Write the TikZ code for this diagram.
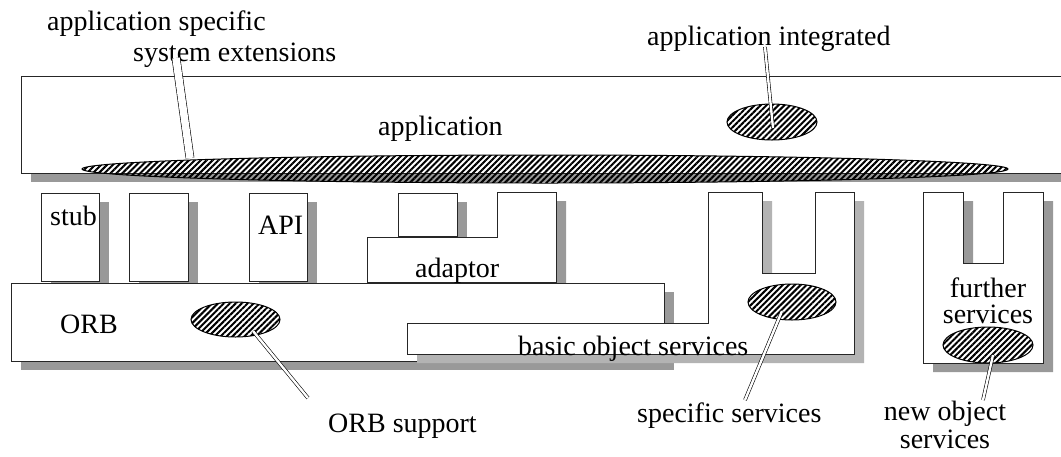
\documentclass[tikz,border=0pt]{standalone}
\usepackage{fontspec}
\setmainfont{Liberation Serif}
\usetikzlibrary{shapes.geometric,patterns.meta}

\definecolor{shadowdark}{HTML}{999999}
\definecolor{shadowlight}{HTML}{B3B3B3}

\tikzset{
  box/.style={draw=black!85, line width=1pt, fill=white},
  shd/.style={fill=#1, shift={(10,9)}},
  shd/.default=shadowdark,
  hatched/.style={ellipse, draw=black, line width=1pt, inner sep=0pt,
    pattern={Lines[angle=45,distance=4.2pt,line width=2pt]}},
  leader/.style={draw=black, line width=0.6pt, double=white, double distance=2.4pt},
  lbl/.style={font=\fontsize{28}{28}\selectfont, inner sep=0pt},
}

\begin{document}
\begin{tikzpicture}[x=1pt, y=-1pt]
  \clip (0,0) rectangle (1061,456);

  % application layer
  \fill[shd] (21,76) rectangle (1075,173);
  \draw[box] (21,76) rectangle (1075,173);
  \node[hatched, minimum width=926pt, minimum height=28pt] (appell) at (545,169) {};
  \node[hatched, minimum width=90pt, minimum height=36pt] (intell) at (772,122) {};

  % stub, skeleton, API
  \fill[shd] (41,193) rectangle (99,281);
  \draw[box] (41,193) rectangle (99,281);
  \fill[shd] (129,193) rectangle (188,281);
  \draw[box] (129,193) rectangle (188,281);
  \fill[shd] (249,193) rectangle (307,281);
  \draw[box] (249,193) rectangle (307,281);

  % adaptor
  \fill[shd] (398,193) rectangle (457,236);
  \draw[box] (398,193) rectangle (457,236);
  \fill[shd] (367,282) -- (367,237) -- (497,237) -- (497,192) -- (556,192) -- (556,282) -- cycle;
  \draw[box] (367,282) -- (367,237) -- (497,237) -- (497,192) -- (556,192) -- (556,282) -- cycle;

  % ORB
  \fill[shd] (11,283) rectangle (664,361);
  \draw[box] (11,283) rectangle (664,361);

  % basic object services
  \fill[shd=shadowlight] (407,323) -- (708,323) -- (708,192) -- (762,192) -- (762,273) -- (815,273)
    -- (815,192) -- (854,192) -- (854,354) -- (407,354) -- cycle;
  \draw[box] (407,323) -- (708,323) -- (708,192) -- (762,192) -- (762,273) -- (815,273)
    -- (815,192) -- (854,192) -- (854,354) -- (407,354) -- cycle;

  % further services
  \fill[shd] (923,192) -- (963,192) -- (963,263) -- (1003,263) -- (1003,192) -- (1043,192)
    -- (1043,363) -- (923,363) -- cycle;
  \draw[box] (923,192) -- (963,192) -- (963,263) -- (1003,263) -- (1003,192) -- (1043,192)
    -- (1043,363) -- (923,363) -- cycle;

  \node[hatched, minimum width=89pt, minimum height=35pt] (orbell) at (235.5,319.5) {};
  \node[hatched, minimum width=88pt, minimum height=36pt] (specell) at (792,302) {};
  \node[hatched, minimum width=90pt, minimum height=36pt] (newell) at (988,345) {};

  % labels
  \node[lbl, anchor=base west] (appspec) at (47,30) {application specific};
  \node[lbl, anchor=base west] (sysext) at (133,61) {system extensions};
  \node[lbl, anchor=base west] (inttxt) at (647,45) {application integrated};
  \node[lbl, anchor=base west] (apptxt) at (378,135) {application};
  \node[lbl, anchor=base west] (stubtxt) at (50,225) {stub};
  \node[lbl, anchor=base west] (apitxt) at (258,234) {API};
  \node[lbl, anchor=base west] (adaptxt) at (415,277) {adaptor};
  \node[lbl, anchor=base west] (orbtxt) at (60,333) {ORB};
  \node[lbl, anchor=base west] (basictxt) at (518,355) {basic object services};
  \node[lbl, anchor=base, align=center, font=\fontsize{28}{26}\selectfont] (furthtxt) at (988,323) {further\\services};
  \node[lbl, anchor=base west] (suptxt) at (328,432) {ORB support};
  \node[lbl, anchor=base west] (spectxt) at (637,422) {specific services};
  \node[lbl, anchor=base, align=center] (newtxt) at (945,448) {new object\\services};

  % leaders
  \draw[leader, double distance=7.5pt] ([shift={(43,-3)}]sysext.base west) -- ([shift={(-355,-11)}]appell.center);
  \draw[leader] ([shift={(118,2)}]inttxt.base west) -- ([shift={(1,6)}]intell.center);
  \draw[leader] ([shift={(-20,-34)}]suptxt.base west) -- ([shift={(17.5,11.5)}]orbell.center);
  \draw[leader] ([shift={(108,-22)}]spectxt.base west) -- ([shift={(-10,9)}]specell.center);
  \draw[leader] ([shift={(38,-48)}]newtxt.base) -- ([shift={(5,10)}]newell.center);
\end{tikzpicture}
\end{document}
